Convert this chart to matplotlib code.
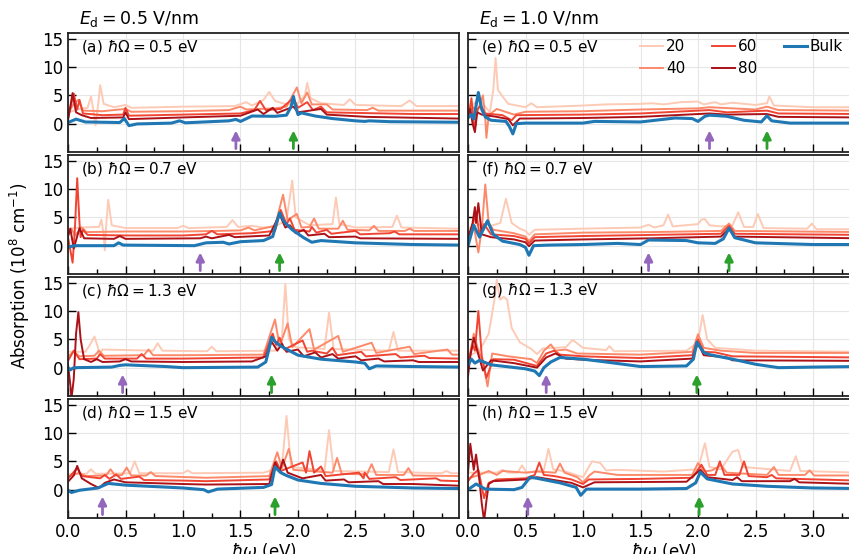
import numpy as np
import matplotlib
matplotlib.use("Agg")
import matplotlib.pyplot as plt

# ---- data: (hbar*omega [eV], absorption [1e8 cm^-1]) ----
# panel (a)  Ed = 0.5 V/nm, hbar*Omega = 0.5 eV
bulk_a = [(0,0.2),(0.07,0.8),(0.15,0.3),(0.45,0.2),(0.49,0.9),(0.53,-0.35),(0.6,-0.05),(0.9,0.1),(0.97,0.5),(1.02,0.15),
          (1.4,0.5),(1.46,0.75),(1.5,0.4),(1.6,1.35),(1.8,1.3),(1.9,1.5),(1.94,3.0),(1.96,4.8),(1.98,3.0),(2.0,1.6),
          (2.03,1.9),(2.15,1.35),(2.3,0.9),(2.5,0.5),(2.58,0.4),(2.62,0.5),(2.8,0.35),(3.4,0.25)]
n20_a = [(0,2.0),(0.1,2.6),(0.17,2.8),(0.2,4.8),(0.22,2.5),(0.24,-0.3),(0.26,3.0),(0.28,6.8),(0.31,3.5),(0.4,2.9),(0.5,3.3),
         (0.55,2.8),(1.0,3.0),(1.45,3.1),(1.55,3.8),(1.6,3.2),(1.7,4.2),(1.75,5.6),(1.8,4.0),(1.9,3.4),(2.0,3.6),(2.06,5.0),
         (2.08,7.2),(2.11,4.5),(2.2,3.6),(2.4,3.3),(2.45,4.3),(2.5,3.3),(2.9,3.1),(2.97,4.1),(3.03,3.1),(3.4,3.1)]
n40_a = [(0,1.8),(0.05,3.5),(0.09,4.2),(0.13,2.3),(0.3,2.2),(0.5,2.6),(0.55,2.1),(1.0,2.2),(1.4,2.4),(1.5,3.0),(1.55,2.5),
         (1.8,2.7),(1.9,3.0),(1.99,6.4),(2.03,3.6),(2.08,5.5),(2.12,3.4),(2.25,3.4),(2.3,2.5),(2.6,2.4),(2.65,2.8),(2.7,2.3),(3.4,2.3)]
n60_a = [(0,1.0),(0.05,5.3),(0.08,2.5),(0.1,4.2),(0.13,1.8),(0.3,1.5),(0.48,1.6),(0.5,2.8),(0.53,1.4),(1.0,1.6),(1.5,1.8),
         (1.62,2.4),(1.67,4.0),(1.72,2.4),(1.85,2.6),(1.96,4.5),(2.0,2.8),(2.08,3.8),(2.13,2.4),(2.2,3.0),(2.25,2.0),(3.0,1.7),(3.4,1.7)]
n80_a = [(0,0.6),(0.04,5.4),(0.07,2.0),(0.12,1.5),(0.2,1.0),(0.48,1.1),(0.5,2.0),(0.53,0.8),(1.0,1.1),(1.5,1.4),(1.65,2.5),
         (1.7,1.7),(1.78,2.8),(1.82,1.9),(1.96,3.0),(2.0,2.0),(2.2,2.6),(2.25,1.6),(2.6,1.2),(3.4,0.9)]

# panel (b)  Ed = 0.5 V/nm, hbar*Omega = 0.7 eV
bulk_b = [(0,-0.3),(0.05,0.0),(0.4,0.0),(0.44,0.5),(0.48,0.1),(1.1,0.0),(1.2,0.5),(1.35,0.6),(1.4,0.3),(1.5,0.7),(1.7,0.9),
          (1.78,1.6),(1.82,4.5),(1.84,5.8),(1.88,4.2),(1.95,2.8),(2.05,1.4),(2.12,0.6),(2.2,0.9),(2.5,0.5),(3.0,0.2),(3.4,0.1)]
n20_b = [(0,3.0),(0.1,3.2),(0.27,3.3),(0.29,4.6),(0.31,2.0),(0.32,-0.8),(0.33,3.0),(0.35,8.1),(0.38,3.6),(0.5,3.1),(0.95,3.1),
         (1.0,3.5),(1.05,3.1),(1.38,3.3),(1.43,4.5),(1.48,3.3),(1.6,3.5),(1.7,3.2),(1.8,3.4),(1.9,4.5),(1.95,11.5),(1.98,5.0),
         (2.1,3.6),(2.3,3.8),(2.33,8.5),(2.36,3.8),(2.5,3.2),(2.82,3.3),(2.86,5.3),(2.9,3.2),(3.4,3.0)]
n40_b = [(0,2.0),(0.03,3.0),(0.06,1.8),(0.12,3.2),(0.16,2.4),(0.5,2.5),(1.0,2.5),(1.3,2.6),(1.5,2.7),(1.57,3.2),(1.62,2.7),
         (1.8,3.5),(1.87,9.0),(1.91,4.5),(1.99,5.6),(2.03,3.2),(2.1,3.3),(2.14,4.8),(2.18,3.0),(2.35,3.0),(2.39,4.4),(2.43,2.8),
         (2.62,2.7),(2.66,3.5),(2.7,2.6),(2.93,2.6),(2.97,3.0),(3.01,2.6),(3.4,2.6)]
n60_b = [(0,1.5),(0.04,-3.0),(0.06,3.0),(0.08,11.9),(0.1,4.0),(0.11,1.5),(0.13,2.8),(0.17,1.9),(0.5,1.8),(1.0,1.8),(1.2,2.0),
         (1.25,2.6),(1.3,2.0),(1.6,2.2),(1.8,2.6),(1.85,6.3),(1.9,3.8),(1.93,4.8),(1.97,2.8),(2.1,2.5),(2.12,3.3),(2.16,2.3),
         (2.25,2.8),(2.29,2.1),(2.5,2.6),(2.54,2.0),(2.8,2.2),(2.84,2.5),(2.88,2.0),(3.4,2.0)]
n80_b = [(0,1.6),(0.02,3.0),(0.05,-0.5),(0.1,3.1),(0.14,1.3),(0.4,1.2),(0.45,1.7),(0.5,1.2),(1.15,1.3),(1.2,1.6),(1.25,1.3),
         (1.4,1.9),(1.45,1.5),(1.75,1.8),(1.84,5.5),(1.89,3.2),(1.93,3.6),(1.98,2.2),(2.05,2.8),(2.09,1.8),(2.23,2.1),(2.27,1.5),
         (2.5,1.6),(2.54,1.3),(3.4,1.2)]

# panel (c)  Ed = 0.5 V/nm, hbar*Omega = 1.3 eV
bulk_c = [(0,0.0),(0.02,-0.4),(0.05,0.0),(0.38,0.1),(0.45,0.4),(0.5,0.5),(0.85,0.2),(1.0,0.0),(1.65,0.1),(1.72,1.0),(1.75,3.5),
          (1.77,5.4),(1.8,4.6),(1.85,3.8),(2.0,2.2),(2.2,1.5),(2.5,1.0),(2.58,0.8),(2.62,-0.2),(2.68,0.3),(3.0,0.2),(3.4,0.1)]
n20_c = [(0,2.8),(0.15,2.8),(0.19,4.0),(0.23,5.5),(0.26,3.6),(0.27,2.2),(0.3,3.2),(0.74,3.0),(0.78,4.3),(0.82,3.0),(1.21,2.9),
         (1.25,3.7),(1.29,2.9),(1.8,3.0),(1.86,5.0),(1.89,14.8),(1.92,5.0),(1.98,3.6),(2.23,3.3),(2.27,9.7),(2.31,3.3),(2.79,3.0),
         (2.83,6.3),(2.87,3.0),(3.4,3.0)]
n40_c = [(0,2.0),(0.05,2.8),(0.1,2.0),(0.23,2.1),(0.27,3.0),(0.31,2.1),(0.66,2.2),(0.7,3.2),(0.74,2.2),(1.0,2.2),(1.7,2.3),
         (1.8,8.5),(1.84,3.8),(1.91,7.8),(1.95,3.6),(2.1,6.8),(2.14,3.2),(2.35,5.6),(2.39,2.8),(2.64,4.4),(2.68,2.6),(2.97,3.7),
         (3.01,2.4),(3.3,3.2),(3.34,2.3),(3.4,2.3)]
n60_c = [(0,1.2),(0.05,3.0),(0.1,1.5),(0.25,1.6),(0.28,2.4),(0.32,1.6),(0.6,1.6),(0.64,2.4),(0.68,1.6),(1.0,1.6),(1.7,1.8),
         (1.78,6.0),(1.81,4.0),(1.84,5.3),(1.88,3.2),(2.04,4.8),(2.08,2.8),(2.12,3.0),(2.25,2.5),(2.3,3.5),(2.34,2.2),(2.55,2.8),
         (2.59,2.0),(2.85,2.4),(2.89,1.8),(3.1,2.1),(3.14,1.7),(3.4,1.6)]
n80_c = [(0,0.5),(0.02,-3.0),(0.03,-5.5),(0.05,-2.0),(0.07,6.0),(0.09,9.8),(0.11,5.0),(0.14,1.5),(0.2,1.0),(0.25,1.5),(0.3,1.0),
         (0.45,1.1),(0.5,1.5),(0.55,1.1),(1.0,1.0),(1.6,1.1),(1.72,2.0),(1.77,4.6),(1.82,3.0),(1.86,4.2),(1.9,2.8),(2.0,3.2),
         (2.05,2.0),(2.15,2.7),(2.2,1.8),(2.3,2.4),(2.35,1.6),(2.5,2.0),(2.55,1.3),(2.7,1.6),(2.75,1.1),(3.0,1.3),(3.05,1.0),(3.4,1.0)]

# panel (d)  Ed = 0.5 V/nm, hbar*Omega = 1.5 eV
bulk_d = [(0,-0.1),(0.03,-0.5),(0.1,-0.1),(0.26,0.3),(0.35,1.1),(0.5,0.8),(1.0,0.3),(1.18,0.0),(1.22,-0.4),(1.3,0.1),(1.7,0.4),
          (1.77,0.9),(1.8,4.0),(1.85,3.0),(1.9,2.5),(2.0,1.7),(2.2,1.1),(2.5,0.6),(3.0,0.3),(3.4,0.2)]
n20_d = [(0,2.7),(0.16,2.8),(0.2,3.6),(0.24,2.8),(0.54,2.9),(0.58,5.0),(0.62,2.9),(1.0,2.9),(1.04,3.4),(1.08,2.9),(1.7,3.0),
         (1.86,4.0),(1.9,13.0),(1.94,4.0),(2.23,3.4),(2.27,10.5),(2.31,3.3),(2.79,3.1),(2.83,7.1),(2.87,3.1),(3.25,2.9),(3.29,3.3),
         (3.33,2.9),(3.4,2.9)]
n40_d = [(0,2.3),(0.1,3.0),(0.15,2.4),(0.33,2.5),(0.37,3.6),(0.41,2.5),(0.47,2.6),(0.51,3.9),(0.55,2.5),(0.68,2.5),(0.72,3.1),
         (0.76,2.4),(1.2,2.1),(1.75,2.4),(1.82,6.6),(1.86,3.8),(1.92,7.2),(1.96,3.5),(2.3,3.0),(2.34,5.6),(2.38,2.8),(2.6,2.7),
         (2.64,4.5),(2.68,2.6),(2.92,2.6),(2.96,3.8),(3.0,2.5),(3.4,2.4)]
n60_d = [(0,2.0),(0.08,3.8),(0.12,2.4),(0.28,2.0),(0.32,2.6),(0.36,1.9),(0.42,2.7),(0.46,1.9),(0.62,2.3),(0.66,1.7),(1.0,1.6),
         (1.2,1.5),(1.75,1.8),(1.81,5.0),(1.85,3.3),(2.04,4.8),(2.07,3.0),(2.1,6.8),(2.14,3.0),(2.2,4.1),(2.24,2.4),(2.53,3.0),
         (2.57,2.0),(2.58,3.0),(2.62,1.9),(2.85,2.2),(2.89,1.7),(3.2,2.0),(3.24,1.6),(3.4,1.5)]
n80_d = [(0,1.4),(0.05,2.5),(0.08,4.2),(0.12,2.0),(0.2,1.0),(0.27,0.3),(0.32,1.2),(0.4,1.8),(0.5,1.3),(1.0,1.0),(1.2,0.9),
         (1.75,1.0),(1.8,4.8),(1.84,3.2),(1.87,5.3),(1.91,3.0),(2.0,2.3),(2.04,2.0),(2.2,2.6),(2.24,1.6),(2.4,1.8),(2.44,1.3),
         (2.7,1.5),(2.74,1.0),(3.0,1.0),(3.4,0.7)]

# panel (e)  Ed = 1.0 V/nm, hbar*Omega = 0.5 eV
bulk_e = [(0,1.0),(0.03,1.6),(0.05,0.8),(0.09,5.5),(0.12,2.5),(0.15,1.2),(0.2,0.6),(0.33,0.4),(0.36,-0.5),(0.39,-1.8),(0.42,0.0),
          (0.5,0.1),(1.0,0.1),(1.1,0.4),(1.5,0.3),(1.8,1.0),(1.95,0.9),(2.0,0.4),(2.06,1.3),(2.1,1.5),(2.25,1.3),(2.4,0.6),
          (2.55,0.3),(2.6,1.4),(2.64,0.5),(2.8,0.1),(3.4,0.1)]
n20_e = [(0,2.5),(0.05,3.5),(0.1,4.5),(0.15,3.0),(0.19,2.0),(0.22,6.0),(0.24,11.6),(0.26,6.0),(0.3,4.8),(0.35,3.5),(0.5,2.9),
         (0.55,3.6),(0.6,2.9),(1.0,3.2),(1.2,3.4),(1.5,3.5),(1.6,3.6),(1.7,3.4),(1.85,3.8),(2.0,3.9),(2.05,3.4),(2.15,3.8),
         (2.2,3.4),(2.3,3.7),(2.5,3.3),(2.6,3.6),(2.62,4.8),(2.66,3.2),(3.0,2.9),(3.4,2.9)]
n40_e = [(0,1.8),(0.04,3.0),(0.08,2.0),(0.13,5.0),(0.15,1.0),(0.16,-2.5),(0.18,1.5),(0.25,2.6),(0.4,1.6),(0.5,2.1),(1.0,2.2),
         (1.5,2.5),(2.0,2.7),(2.1,2.9),(2.5,2.5),(2.6,3.0),(2.7,2.4),(3.4,2.3)]
n60_e = [(0,0.8),(0.03,4.5),(0.05,0.0),(0.06,-0.8),(0.08,2.5),(0.11,3.2),(0.15,1.8),(0.3,1.5),(0.38,0.6),(0.42,1.5),(1.0,1.6),
         (1.5,1.8),(2.1,2.4),(2.25,2.0),(2.6,2.3),(2.7,1.8),(3.4,1.7)]
n80_e = [(0,1.5),(0.02,2.6),(0.04,0.0),(0.06,-1.5),(0.08,2.0),(0.12,1.6),(0.25,1.2),(0.35,0.8),(0.39,-0.3),(0.45,0.9),(1.0,1.0),
         (1.5,1.2),(2.1,1.8),(2.25,1.6),(2.6,1.7),(2.7,1.2),(3.4,1.1)]

# panel (f)  Ed = 1.0 V/nm, hbar*Omega = 0.7 eV
bulk_f = [(0,0.0),(0.05,3.6),(0.1,1.5),(0.17,4.4),(0.22,2.0),(0.3,0.8),(0.45,0.2),(0.5,-0.3),(0.53,-1.7),(0.57,0.0),(0.7,0.1),
          (1.0,0.2),(1.3,0.4),(1.5,0.2),(1.57,1.0),(1.9,0.9),(2.0,0.5),(2.15,0.4),(2.22,1.2),(2.27,3.1),(2.32,1.4),(2.5,0.5),
          (3.0,0.2),(3.4,0.2)]
n20_f = [(0,3.0),(0.05,3.5),(0.15,3.8),(0.2,3.5),(0.28,4.0),(0.33,8.3),(0.38,4.0),(0.45,3.0),(0.5,2.6),(0.53,1.9),(0.58,2.8),
         (1.0,3.0),(1.5,3.2),(1.57,3.7),(1.62,3.2),(1.7,3.6),(1.74,5.5),(1.78,3.4),(2.0,3.8),(2.03,4.6),(2.06,4.7),(2.1,3.6),
         (2.2,3.4),(2.3,3.6),(2.35,5.9),(2.4,3.3),(2.48,3.3),(2.52,5.6),(2.57,3.1),(2.95,3.0),(2.99,3.9),(3.03,2.9),(3.4,2.9)]
n40_f = [(0,2.0),(0.05,3.5),(0.09,-1.2),(0.12,3.0),(0.15,10.8),(0.18,4.0),(0.22,2.8),(0.4,2.2),(0.5,1.6),(0.53,0.8),(0.58,2.0),
         (1.0,2.3),(1.6,2.4),(2.2,2.6),(2.27,3.9),(2.32,2.6),(3.4,2.4)]
n60_f = [(0,1.4),(0.04,3.6),(0.07,6.0),(0.1,2.0),(0.14,3.8),(0.2,2.0),(0.4,1.7),(0.5,1.2),(0.53,0.4),(0.58,1.5),(1.0,1.7),
         (1.6,1.9),(2.2,2.1),(2.27,3.5),(2.32,2.1),(3.4,1.9)]
n80_f = [(0,1.2),(0.04,4.0),(0.06,6.8),(0.07,4.0),(0.09,7.5),(0.12,2.0),(0.2,1.5),(0.4,1.1),(0.5,0.6),(0.53,-0.1),(0.58,0.9),
         (1.0,1.1),(1.6,1.3),(2.2,1.6),(2.27,3.0),(2.32,1.6),(3.4,1.3)]

# panel (g)  Ed = 1.0 V/nm, hbar*Omega = 1.3 eV
bulk_g = [(0,0.5),(0.03,1.5),(0.06,0.8),(0.1,1.3),(0.2,0.5),(0.5,-0.2),(0.58,-0.6),(0.62,-1.4),(0.66,0.0),(0.72,1.0),(0.8,1.8),
          (1.0,1.5),(1.2,1.0),(1.5,0.2),(1.9,0.3),(1.96,1.5),(1.99,4.5),(2.05,2.7),(2.1,2.3),(2.3,1.5),(2.5,0.6),(2.7,0.0),
          (3.0,0.1),(3.4,0.2)]
n20_g = [(0,2.0),(0.1,3.0),(0.18,6.0),(0.23,12.0),(0.25,15.5),(0.28,12.0),(0.31,12.5),(0.34,12.0),(0.38,7.0),(0.45,4.5),
         (0.55,3.3),(0.6,2.4),(0.65,3.4),(0.85,3.6),(0.91,4.9),(1.0,3.5),(1.2,3.1),(1.23,3.8),(1.27,2.9),(1.9,3.0),(2.0,4.5),
         (2.04,9.3),(2.08,5.0),(2.15,3.5),(2.5,3.0),(3.4,2.8)]
n40_g = [(0,0.5),(0.05,6.0),(0.09,3.0),(0.13,1.0),(0.17,-3.3),(0.21,2.5),(0.35,2.0),(0.55,1.5),(0.6,0.8),(0.66,3.0),(0.72,4.1),
         (0.76,3.0),(0.85,3.2),(0.95,2.5),(1.5,2.3),(1.95,2.8),(2.0,5.9),(2.05,3.5),(2.2,3.0),(2.5,2.6),(3.4,2.6)]
n60_g = [(0,1.0),(0.04,4.0),(0.06,3.0),(0.09,10.0),(0.12,2.0),(0.16,-1.8),(0.22,1.5),(0.4,1.4),(0.6,0.3),(0.68,2.5),(0.75,3.0),
         (0.8,2.3),(1.0,2.0),(1.5,1.7),(1.95,2.2),(2.0,5.0),(2.05,2.8),(2.15,2.7),(2.3,2.0),(3.4,1.8)]
n80_g = [(0,-1.5),(0.02,2.0),(0.05,5.3),(0.08,3.0),(0.13,-0.5),(0.2,1.3),(0.4,0.8),(0.6,0.0),(0.68,1.8),(0.76,2.5),(0.85,1.6),
         (1.0,1.4),(1.5,1.1),(1.95,1.6),(2.0,4.3),(2.05,2.2),(2.25,1.8),(2.3,1.3),(3.4,1.2)]

# panel (h)  Ed = 1.0 V/nm, hbar*Omega = 1.5 eV
bulk_h = [(0,0.0),(0.07,1.0),(0.15,0.1),(0.4,0.0),(0.47,0.4),(0.54,2.2),(0.6,2.0),(0.8,1.2),(0.94,0.4),(0.98,-1.0),(1.03,0.1),
          (1.5,0.1),(1.9,0.2),(1.98,1.2),(2.02,3.1),(2.08,1.9),(2.3,1.0),(2.6,0.6),(3.0,0.3),(3.4,0.2)]
n20_h = [(0,3.0),(0.25,3.0),(0.3,3.5),(0.35,3.0),(0.43,3.0),(0.47,4.3),(0.51,3.0),(0.66,3.5),(0.7,7.2),(0.74,3.6),(0.85,3.2),
         (1.0,2.2),(1.05,4.0),(1.08,5.0),(1.15,4.7),(1.2,3.4),(1.3,3.5),(1.7,3.2),(2.0,3.6),(2.06,8.2),(2.1,4.0),(2.2,3.6),
         (2.3,6.7),(2.35,7.0),(2.39,4.0),(2.8,3.3),(2.85,5.9),(2.89,3.3),(3.4,3.0)]
n40_h = [(0,2.0),(0.1,2.6),(0.18,3.3),(0.25,2.6),(0.3,3.3),(0.5,3.0),(0.6,3.2),(0.76,3.0),(0.8,4.6),(0.84,3.0),(0.95,2.2),
         (1.0,1.3),(1.06,2.6),(1.1,3.2),(1.3,2.6),(1.95,2.6),(2.0,4.7),(2.05,3.2),(2.12,3.4),(2.2,4.3),(2.25,3.0),(2.6,2.6),
         (2.66,4.0),(2.7,2.6),(2.93,2.6),(2.97,3.4),(3.01,2.5),(3.4,2.5)]
n60_h = [(0,1.5),(0.05,2.8),(0.09,3.5),(0.12,0.5),(0.14,-1.5),(0.18,1.2),(0.25,1.8),(0.5,2.0),(0.58,2.6),(0.62,4.8),(0.66,2.6),
         (0.75,2.4),(0.9,1.8),(1.0,1.0),(1.05,1.8),(1.5,1.9),(1.95,2.1),(2.03,4.4),(2.08,2.6),(2.15,2.6),(2.19,5.0),(2.23,2.6),
         (2.36,2.6),(2.40,5.0),(2.44,2.4),(2.6,2.2),(2.64,2.6),(2.68,2.0),(3.4,1.6)]
n80_h = [(0,3.0),(0.02,8.1),(0.05,3.5),(0.07,6.2),(0.1,1.5),(0.12,-2.5),(0.14,-5.5),(0.16,-2.0),(0.18,1.0),(0.22,1.5),(0.5,1.8),
         (0.6,2.2),(0.9,1.2),(1.0,0.4),(1.1,1.3),(1.9,1.4),(2.02,3.5),(2.08,2.2),(2.3,1.7),(2.34,2.2),(2.38,1.5),(2.8,1.5),
         (2.84,1.9),(2.88,1.3),(3.4,1.0)]

panel_tags = ['a', 'b', 'c', 'd', 'e', 'f', 'g', 'h']
omega_vals = [0.5, 0.7, 1.3, 1.5, 0.5, 0.7, 1.3, 1.5]
field_vals = [0.5, 1.0]
purple_x = [1.46, 1.15, 0.475, 0.30, 2.10, 1.57, 0.68, 0.52]
green_x = [1.96, 1.84, 1.77, 1.80, 2.60, 2.27, 1.99, 2.01]
series_labels = ['20', '40', '60', '80', 'Bulk']

series_by_panel = {
    'a': [n20_a, n40_a, n60_a, n80_a, bulk_a],
    'b': [n20_b, n40_b, n60_b, n80_b, bulk_b],
    'c': [n20_c, n40_c, n60_c, n80_c, bulk_c],
    'd': [n20_d, n40_d, n60_d, n80_d, bulk_d],
    'e': [n20_e, n40_e, n60_e, n80_e, bulk_e],
    'f': [n20_f, n40_f, n60_f, n80_f, bulk_f],
    'g': [n20_g, n40_g, n60_g, n80_g, bulk_g],
    'h': [n20_h, n40_h, n60_h, n80_h, bulk_h],
}

reds = plt.cm.Reds([0.2, 0.4, 0.6, 0.85])
colors = [reds[0], reds[1], reds[2], reds[3], '#1f77b4']
widths = [1.4, 1.4, 1.4, 1.4, 2.2]

fig = plt.figure(figsize=(8.49, 5.54), dpi=100)
W, H = 849.0, 554.0
col_left = [68.0, 468.0]
ax_w = 3.4 * 115.0
row_top = [33.0, 155.0, 277.0, 399.0]
ax_h = 119.0

for k, tag in enumerate(panel_tags):
    col = k // 4
    row = k % 4
    ax = fig.add_axes([col_left[col] / W, (H - row_top[row] - ax_h) / H, ax_w / W, ax_h / H])

    for s, pts in enumerate(series_by_panel[tag]):
        arr = np.array(pts)
        ax.plot(arr[:, 0], arr[:, 1], color=colors[s], lw=widths[s], label=series_labels[s],
                solid_joinstyle='round')

    ax.annotate('', xy=(purple_x[k], -1.2), xytext=(purple_x[k], -4.4),
                arrowprops=dict(arrowstyle='-|>', color='#9467bd', lw=2, mutation_scale=12, shrinkA=0, shrinkB=0))
    ax.annotate('', xy=(green_x[k], -1.2), xytext=(green_x[k], -4.4),
                arrowprops=dict(arrowstyle='-|>', color='#2ca02c', lw=2, mutation_scale=12, shrinkA=0, shrinkB=0))

    ax.set_xlim(0, 3.4)
    ax.set_ylim(-5, 16)
    ax.set_xticks(np.arange(0, 3.01, 0.5))
    ax.set_xticks(np.arange(0, 3.41, 0.25), minor=True)
    ax.set_yticks([0, 5, 10, 15])
    ax.grid(True, which='major', color='#e6e6e6', lw=0.8)
    ax.set_axisbelow(True)
    ax.tick_params(which='both', direction='in', top=False, right=False, labelsize=12)
    ax.tick_params(which='major', length=6, width=1)
    ax.tick_params(which='minor', length=3.5, width=1)
    for sp in ax.spines.values():
        sp.set_linewidth(1.3)
        sp.set_color('#222222')

    ax.text(0.032, 0.885, r'(%s) $\hbar\Omega = %.1f$ eV' % (tag, omega_vals[k]),
            transform=ax.transAxes, fontsize=11, va='center', ha='left')

    if row < 3:
        ax.tick_params(labelbottom=False)
    else:
        ax.set_xlabel(r'$\hbar\omega$ (eV)', fontsize=12, labelpad=0)
    if col == 1:
        ax.tick_params(labelleft=False)
    if row == 0:
        ax.text(0.028, 1.03, r'$E_{\rm d} = %.1f$ V/nm' % field_vals[col],
                transform=ax.transAxes, fontsize=12.5, va='bottom', ha='left')
    if tag == 'e':
        ax.legend(ncol=3, frameon=False, fontsize=11, loc='upper right', bbox_to_anchor=(0.975, 1.0),
                  borderaxespad=0, handlelength=1.5, handletextpad=0.2, columnspacing=1.75, labelspacing=0.45)

fig.text(0.024, 0.503, r'Absorption (10$^8$ cm$^{-1}$)', rotation=90, va='center', ha='center', fontsize=12)

fig.savefig('out.png', dpi=100)
